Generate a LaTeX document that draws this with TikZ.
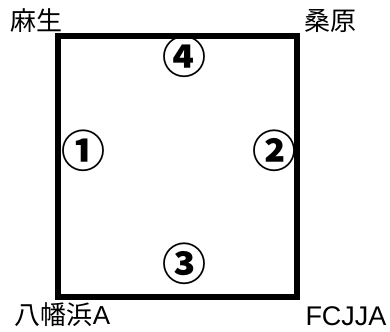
\documentclass[tikz,border=0pt]{standalone}
\usepackage{fontspec}
\setmainfont{Liberation Sans}
\newfontfamily\cjk{Noto Sans CJK JP}
\tikzset{
  lbl/.style={inner sep=0pt, font=\fontsize{26bp}{28bp}\selectfont},
  lat/.style={inner sep=0pt, font=\fontsize{27bp}{28bp}\selectfont},
  num/.style={inner sep=0pt, font=\cjk\bfseries\fontsize{44bp}{46bp}\selectfont},
  frame/.style={draw=black, line width=6bp, inner sep=0pt, minimum width=239bp, minimum height=261bp}
}
\begin{document}
\begin{tikzpicture}[x=1bp,y=-1bp]
\useasboundingbox (0,0) rectangle (390,332);
\node[frame] (box) at (177.5,166.5) {};
\node[lbl] (asou) at (36.5,21) {\cjk 麻生};
\node[lbl] (kuwa) at (330,21) {\cjk 桑原};
\node[lbl] (yawa) at (62.5,315) {{\cjk 八幡浜}A};
\node[lat] (fcjja) at (346,316) {FCJJA};
\node[num] (n4) at (184,57) {④};
\node[num] (n1) at (83,151) {①};
\node[num] (n2) at (274,151) {②};
\node[num] (n3) at (184,264) {③};
\end{tikzpicture}
\end{document}
